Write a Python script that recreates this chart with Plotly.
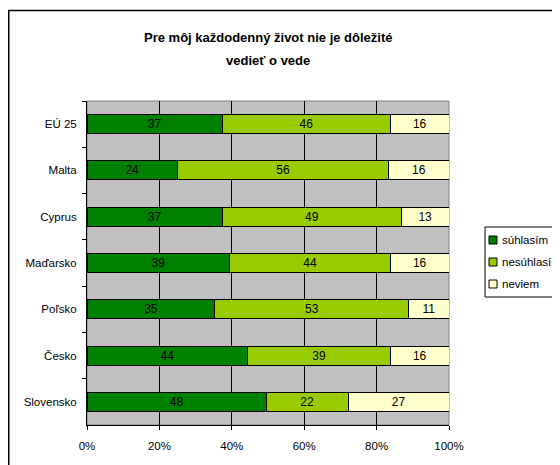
import plotly.graph_objects as go

categories = ["EÚ 25", "Malta", "Cyprus", "Maďarsko", "Poľsko", "Česko", "Slovensko"]
suhlasim = [37, 24, 37, 39, 35, 44, 48]
nesuhlasim = [46, 56, 49, 44, 53, 39, 22]
neviem = [16, 16, 13, 16, 11, 16, 27]
series_names = ["súhlasím", "nesúhlasím", "neviem"]
series_colors = ["#008000", "#99CC00", "#FFFFCC"]
x_ticks = [0, 20, 40, 60, 80, 100]

OFF = 8  # page body margin
W, H = 560 - OFF, 465 - OFF
# plot area in viewport pixels
VL, VR, VT, VB = 87, 449, 101, 425
L, R, T, B = VL - OFF, VR - OFF, VT - OFF, VB - OFF

def px_x(p):  # viewport px -> paper
    return (p - VL) / (VR - VL)

def px_y(p):
    return (VB - p) / (VB - VT)

fig = go.Figure()
for name, vals, col in zip(series_names, [suhlasim, nesuhlasim, neviem], series_colors):
    fig.add_trace(go.Bar(
        y=categories, x=vals, name=name, orientation="h",
        marker=dict(color=col, line=dict(color="black", width=1)),
        text=vals, texttemplate="%{text}", textposition="inside",
        insidetextanchor="middle", textangle=0,
        textfont=dict(family="Liberation Sans, Arial", size=12, color="black"),
        constraintext="none", showlegend=False,
    ))

fig.update_layout(
    width=W, height=H,
    barmode="stack", barnorm="percent", bargap=0.59,
    paper_bgcolor="white", plot_bgcolor="#C0C0C0",
    margin=dict(l=L, r=W - R, t=T, b=H - B, autoexpand=False),
    font=dict(family="Liberation Sans, Arial", size=11.5, color="black"),
    showlegend=False,
)

fig.update_xaxes(
    range=[0, 100], tickvals=x_ticks, ticktext=[f"{v}%" for v in x_ticks],
    showgrid=True, gridcolor="black", gridwidth=1,
    ticks="outside", ticklen=4, tickcolor="black", ticklabelstandoff=6,
    showline=True, linecolor="black", linewidth=1,
    zeroline=False, fixedrange=True,
)
fig.update_yaxes(
    categoryorder="array", categoryarray=categories, autorange="reversed",
    ticks="outside", ticklen=4, tickcolor="black", tickson="boundaries",
    ticklabelstandoff=7,
    showline=True, linecolor="black", linewidth=1, showgrid=False,
)

# plot area outline
fig.add_shape(type="rect", xref="paper", yref="paper", x0=0, x1=1, y0=0, y1=1,
              line=dict(color="#808080", width=1), layer="below", fillcolor="rgba(0,0,0,0)")
# outer chart border
fig.add_shape(type="rect", xref="paper", yref="paper",
              x0=px_x(8.75), x1=px_x(580), y0=px_y(490), y1=px_y(10.5),
              line=dict(color="black", width=1.5))

fig.add_annotation(text="<b>Pre môj každodenný život nie je dôležité</b>",
                   xref="paper", yref="paper", x=px_x(268), y=px_y(37),
                   showarrow=False, font=dict(size=13), xanchor="center", yanchor="middle")
fig.add_annotation(text="<b>vedieť o vede</b>",
                   xref="paper", yref="paper", x=px_x(268), y=px_y(60),
                   showarrow=False, font=dict(size=13), xanchor="center", yanchor="middle")

# legend (drawn as a box with swatches, clipped at the right edge like the reference)
fig.add_shape(type="rect", xref="paper", yref="paper",
              x0=px_x(485), x1=px_x(600), y0=px_y(297), y1=px_y(227),
              line=dict(color="black", width=1), fillcolor="white")
for i, (name, col) in enumerate(zip(series_names, series_colors)):
    cy = 240 + 22 * i
    fig.add_shape(type="rect", xref="paper", yref="paper",
                  x0=px_x(489), x1=px_x(497), y0=px_y(cy + 4), y1=px_y(cy - 4),
                  line=dict(color="black", width=1), fillcolor=col)
    fig.add_annotation(text=name, xref="paper", yref="paper",
                       x=px_x(500), y=px_y(cy), xanchor="left", yanchor="middle",
                       showarrow=False, font=dict(size=11.5))

fig.write_html("out.html")
